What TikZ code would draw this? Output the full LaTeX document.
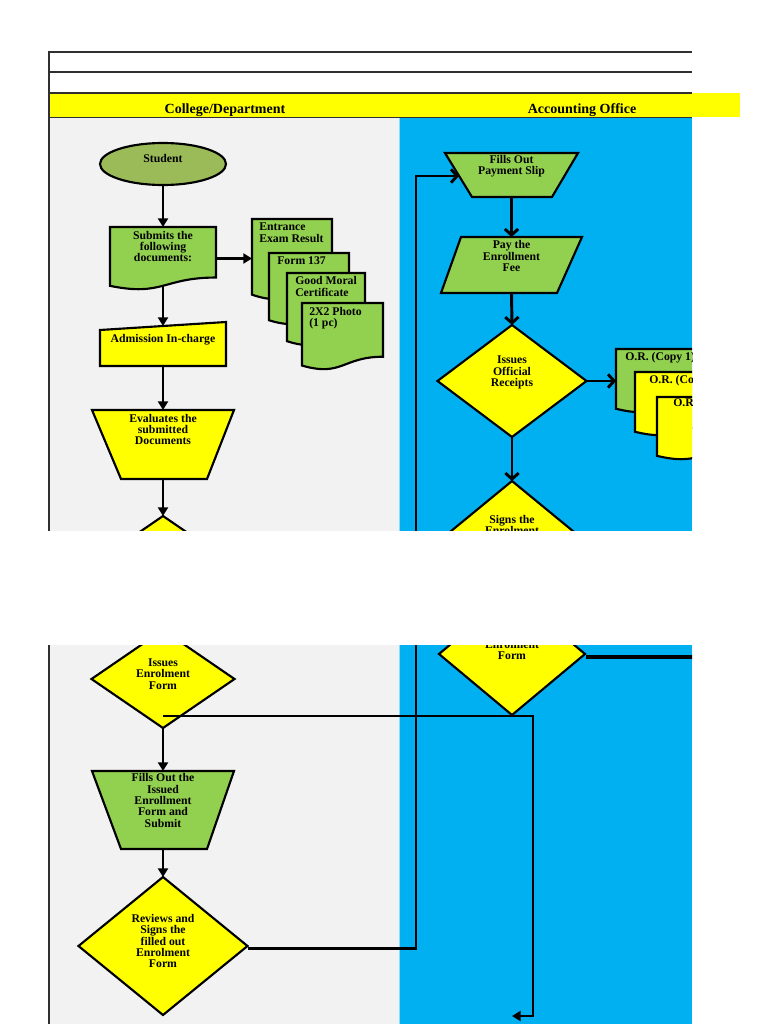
\documentclass[tikz,border=0pt]{standalone}
\usepackage{fontspec}
\setmainfont{Liberation Serif}
\usetikzlibrary{arrows.meta,shapes.geometric,calc}
\definecolor{lanegray}{HTML}{F2F2F2}
\definecolor{laneblue}{HTML}{00B0F0}
\definecolor{hyellow}{HTML}{FFFF00}
\definecolor{fgreen}{HTML}{92D050}
\definecolor{olivegreen}{HTML}{9BBB59}
\definecolor{gridline}{HTML}{303030}
\tikzset{
  geo/.style 2 args={inner sep=0pt, outer sep=0pt, anchor=north west,
    minimum width=#1*0.75pt, minimum height=#2*0.75pt},
  outline/.style={draw=black, line width=1.6pt, line join=miter},
  dia/.style 2 args={diamond, outline, fill=hyellow, inner sep=0pt, outer sep=0pt,
    minimum width=#1*0.75pt, minimum height=#2*0.75pt},
  lbl/.style={font=\fontsize{8.8}{8.5}\selectfont\bfseries, align=center, inner sep=0pt},
  lbll/.style={lbl, align=left, anchor=north west},
  hdr/.style={font=\fontsize{10.5}{11}\selectfont\bfseries, inner sep=0pt},
  flowL/.style={line width=2.2pt, -{Triangle[length=6.5pt,width=7.5pt]}},
  flowR/.style={line width=2.2pt, -{Straight Barb[length=4.5pt,width=10pt]}},
  plainline/.style={line width=2.4pt},
  grid/.style={draw=gridline, line width=1.3pt},
}
\newcommand\docshape[4]{%
  \draw[outline,fill=#4] (#1.north west) -- (#1.north east)
    -- ($(#1.north east)+(0,{0.802*#3})$)
    .. controls ($(#1.north west)+({0.5*#2},{0.802*#3})$) and ($(#1.north west)+({0.5*#2},{1.107*#3})$)
    .. ($(#1.north west)+(0,{0.934*#3})$) -- cycle;}
\begin{document}
\begin{tikzpicture}[x=0.75pt,y=-0.75pt]
\useasboundingbox (0,0) rectangle (768,1024);
\fill[white] (0,0) rectangle (768,1024);
% yellow header spill beyond the frame
\fill[hyellow] (692,93) rectangle (740,117);
\begin{scope}
\clip (0,0) rectangle (692,1024);
% lanes
\fill[lanegray] (49,118) rectangle (400,1024);
\fill[laneblue] (400,118) rectangle (692,1024);
\draw[laneblue!45, line width=0.7pt] (399.5,118) -- (399.5,1024);
\fill[hyellow] (49,93) rectangle (692,118);
% frame lines
\draw[grid] (49,52) -- (692,52);
\draw[grid] (49,72) -- (692,72);
\draw[grid] (49,93) -- (692,93);
\draw[grid] (49,117.5) -- (692,117.5);
\draw[grid] (49,51) -- (49,1024);
\node[hdr] (h1) at (225,110) {College/Department};
\node[hdr] (h2) at (582,110) {Accounting Office};

% ---------------- left lane ----------------
\node[ellipse, outline, fill=olivegreen, inner sep=0pt, outer sep=0pt,
  minimum width=126*0.75pt, minimum height=42*0.75pt] (stu) at (163,164) {};
\node[lbl] (stu-t) at (163,158.5) {Student};

\node[geo={106}{63}] (sub) at (110,227) {};
\docshape{sub}{106}{63}{fgreen}
\node[lbl] (sub-t) at (163,246.5) {Submits the\\following\\documents:};

\node[geo={80}{81}] (d1) at (252,219) {};
\docshape{d1}{80}{81}{fgreen}
\node[lbll] (d1-t) at (259,223) {Entrance\\Exam Result};
\node[geo={80}{72}] (d2) at (269,253) {};
\docshape{d2}{80}{72}{fgreen}
\node[lbll] (d2-t) at (277,256.5) {Form 137};
\node[geo={78}{73}] (d3) at (287,273) {};
\docshape{d3}{78}{73}{fgreen}
\node[lbll] (d3-t) at (295,276.5) {Good Moral\\Certificate};
\node[geo={81}{67}] (d4) at (302,303) {};
\docshape{d4}{81}{67}{fgreen}
\node[lbll] (d4-t) at (309,307) {2X2 Photo\\(1 pc)};

\node[geo={126}{44}] (adm) at (100,322) {};
\draw[outline, fill=hyellow] ($(adm.north west)+(0,8)$) -- (adm.north east)
  -- (adm.south east) -- (adm.south west) -- cycle;
\node[lbl] (adm-t) at (163,339.5) {Admission In-charge};

\node[geo={142}{69}] (ev) at (92,410) {};
\draw[outline, fill=hyellow] (ev.north west) -- (ev.north east)
  -- ($(ev.south east)+(-27,0)$) -- ($(ev.south west)+(29,0)$) -- cycle;
\node[lbl] (ev-t) at (163,429.5) {Evaluates the\\submitted\\Documents};

\node[dia={143}{98}] (dl1) at (163,565) {};
\node[dia={143}{98}] (dl2) at (163,679) {};
\node[lbl] (dl2-t) at (163,674) {Issues\\Enrolment\\Form};

\node[geo={142}{78}] (ff) at (92,771) {};
\draw[outline, fill=fgreen] (ff.north west) -- (ff.north east)
  -- ($(ff.south east)+(-27,0)$) -- ($(ff.south west)+(29,0)$) -- cycle;
\node[lbl] (ff-t) at (163,800.5) {Fills Out the\\Issued\\Enrollment\\Form and\\Submit};

\node[dia={169}{138}] (rv) at (163,946) {};
\node[lbl] (rv-t) at (163,941) {Reviews and\\Signs the\\filled out\\Enrolment\\Form};

% left lane connectors
\draw[flowL] (stu.south) -- (sub.north);
\draw[flowL] (sub.east) -- (sub.east -| d1.west);
\draw[flowL] ($(sub.north)+(0,58.5)$) -- ($(adm.north)+(0,4)$);
\draw[flowL] (adm.south) -- (ev.north);
\draw[flowL] (ev.south) -- (dl1.north);
\draw[flowL] (dl2.south) -- (ff.north);
\draw[flowL] (ff.south) -- (rv.north);

% ---------------- right lane ----------------
\node[geo={133}{44}] (fp) at (445,153) {};
\draw[outline, fill=fgreen] (fp.north west) -- (fp.north east)
  -- ($(fp.south east)+(-26,0)$) -- ($(fp.south west)+(27,0)$) -- cycle;
\node[lbl] (fp-t) at (511.5,166.5) {Fills Out\\Payment Slip};

\node[geo={141}{56}] (pf) at (441,237) {};
\draw[outline, fill=fgreen] ($(pf.north west)+(20,0)$) -- (pf.north east)
  -- ($(pf.south east)+(-25,0)$) -- (pf.south west) -- cycle;
\node[lbl] (pf-t) at (511.5,256) {Pay the\\Enrollment\\Fee};

\node[dia={149}{112}] (or) at (512,381) {};
\node[lbl] (or-t) at (512,372.5) {Issues\\Official\\Receipts};

\node[geo={90}{64}] (oa) at (616,349) {};
\docshape{oa}{90}{64}{fgreen}
\node[lbll] (oa-t) at (625,352.5) {O.R. (Copy 1)};
\node[geo={90}{64}] (ob) at (635,372) {};
\docshape{ob}{90}{64}{hyellow}
\node[lbll] (ob-t) at (649,375.5) {O.R. (Copy 2)};
\node[geo={90}{63}] (oc) at (657,397) {};
\docshape{oc}{90}{63}{hyellow}
\node[lbll] (oc-t) at (673,398.5) {O.R. (Copy 3)};

\node[dia={146}{120}] (sg1) at (512,541) {};
\node[lbl] (sg1-t) at (512,530.5) {Signs the\\Enrolment\\Form};
\node[dia={146}{122}] (sg2) at (512,654) {};
\node[lbl] (sg2-t) at (512,644) {Signs the\\Enrolment\\Form};

% right lane connectors
\draw[flowR] (fp.south) -- (pf.north);
\draw[flowR] (pf.south) -- (or.north);
\draw[flowR] (or.east) -- (or.east -| oa.west);
\draw[flowR] (or.south) -- (sg1.north);
\coordinate (sgout) at (700,657);
\draw[plainline] ($(sg2.east)+(1,3)$) -- (sgout);

% cross-lane connectors
\coordinate (loopx) at (416,176);
\coordinate (fpin) at (459,176);
\coordinate (rvout) at ($(rv.east)+(0,2.5)$);
\draw[flowR] (rvout) -- (rvout -| loopx) -- (loopx) -- (fpin);
\coordinate (ieturn) at (533,716);
\coordinate (ieend) at (512,1016);
\draw[flowL] ($(dl2.south)+(0,-12)$) -- (ieturn) -- (ieturn |- ieend) -- (ieend);

% page break gap
\fill[white] (0,531) rectangle (768,645);
\end{scope}
\end{tikzpicture}
\end{document}
